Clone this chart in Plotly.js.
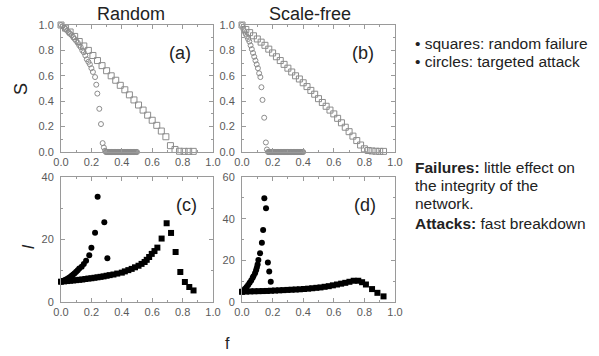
<!DOCTYPE html>
<html><head><meta charset="utf-8">
<script src="https://cdn.plot.ly/plotly-3.0.1.min.js"></script>
<style>html,body{margin:0;padding:0;background:#fff}#chart{width:599px;height:356px}</style>
</head><body><div id="chart"></div><script>
// Panel (a) Random network, S vs f
const aSqF = [0,0.03,0.06,0.09,0.12,0.15,0.18,0.21,0.24,0.27,0.30,0.33,0.36,0.39,0.42,0.45,0.48,0.51,0.54,0.57,0.60,0.63,0.66,0.69,0.72,0.75,0.78,0.81,0.84,0.87];
const aSqS = [1.00,0.975,0.945,0.91,0.87,0.835,0.80,0.76,0.72,0.68,0.64,0.60,0.565,0.525,0.49,0.45,0.41,0.37,0.33,0.29,0.25,0.21,0.165,0.12,0.05,0.02,0.006,0.005,0.005,0.005];
const aCiF = [0,0.01,0.02,0.03,0.04,0.05,0.06,0.07,0.08,0.09,0.10,0.11,0.12,0.13,0.14,0.15,0.16,0.17,0.18,0.19,0.20,0.21,0.224,0.232,0.239,0.252,0.263,0.274,0.282,0.29,
  0.295,0.30,0.305,0.31,0.315,0.32,0.325,0.33,0.335,0.34,0.345,0.35,0.355,0.36,0.365,0.37,0.375,0.38,0.385,0.39,0.395,0.40,0.405,0.41,0.415,0.42,0.425,0.43,0.435,0.44,0.445,0.45,0.455,0.46,0.465,0.47,0.475,0.48,0.485,0.49,0.495,0.50];
const aCiS = [1.0,0.99,0.98,0.97,0.955,0.945,0.93,0.92,0.905,0.89,0.875,0.86,0.84,0.825,0.80,0.785,0.76,0.73,0.71,0.69,0.66,0.63,0.59,0.53,0.46,0.34,0.22,0.07,0.035,0.01,
  0,0,0,0,0,0,0,0,0,0,0,0,0,0,0,0,0,0,0,0,0,0,0,0,0,0,0,0,0,0,0,0,0,0,0,0,0,0,0,0,0,0];
// Panel (b) Scale-free network, S vs f
const bSqF = [0,0.025,0.05,0.075,0.1,0.125,0.15,0.175,0.2,0.225,0.25,0.275,0.3,0.325,0.35,0.375,0.4,0.425,0.45,0.475,0.5,0.525,0.55,0.575,0.6,0.625,0.65,0.675,0.7,0.725,0.75,0.775,0.8,0.825,0.85,0.875,0.9,0.925];
const bSqS = [1.00,0.965,0.94,0.915,0.89,0.865,0.84,0.81,0.78,0.75,0.72,0.69,0.66,0.63,0.60,0.575,0.545,0.515,0.485,0.455,0.42,0.39,0.36,0.33,0.30,0.265,0.23,0.195,0.16,0.125,0.09,0.055,0.025,0.012,0.008,0.006,0.005,0.005];
const bCiF = [0,0.008,0.016,0.024,0.032,0.04,0.048,0.056,0.064,0.072,0.08,0.088,0.096,0.104,0.112,0.12,0.127,0.134,0.145,0.156,0.163,
  0.17,0.175,0.18,0.185,0.19,0.195,0.20,0.205,0.21,0.215,0.22,0.225,0.23,0.235,0.24,0.245,0.25,0.255,0.26,0.265,0.27,0.275,0.28,0.285,0.29,0.295,0.30,0.305,0.31,0.315,0.32,0.325,0.33,0.335,0.34,0.345,0.35,0.355,0.36,0.365,0.37,0.375,0.38,0.385,0.39,0.395,0.40];
const bCiS = [1.0,0.97,0.95,0.93,0.91,0.89,0.87,0.84,0.81,0.78,0.75,0.72,0.69,0.66,0.62,0.59,0.51,0.41,0.27,0.075,0.02,
  0,0,0,0,0,0,0,0,0,0,0,0,0,0,0,0,0,0,0,0,0,0,0,0,0,0,0,0,0,0,0,0,0,0,0,0,0,0,0,0,0,0,0,0,0,0,0,0,0,0,0,0];
// Panel (c) Random network, l vs f
const cSqF = [0,0.02,0.04,0.06,0.08,0.10,0.12,0.14,0.16,0.18,0.20,0.22,0.24,0.26,0.28,0.30,0.32,0.345,0.37,0.40,0.42,0.443,0.465,0.487,0.51,0.53,0.55,0.564,0.58,0.597,0.615,0.634,0.662,0.695,0.724,0.754,0.785,0.815,0.844,0.872];
const cSqL = [6.5,6.6,6.7,6.8,6.9,7.0,7.1,7.2,7.35,7.5,7.6,7.75,7.9,8.05,8.2,8.4,8.6,8.8,9.1,9.4,9.8,10.2,10.6,11.1,11.6,12.2,12.8,13.5,14.4,15.4,16.3,17.4,20.3,25.2,22.1,16.0,9.6,6.4,4.8,3.7];
const cCiF = [0,0.01,0.02,0.03,0.04,0.05,0.06,0.07,0.08,0.09,0.10,0.11,0.12,0.136,0.15,0.165,0.186,0.20,0.224,0.241,0.285,0.305];
const cCiL = [6.5,6.7,6.9,7.1,7.4,7.7,8.0,8.4,8.8,9.2,9.7,10.2,10.7,11.3,12.2,13.2,15.0,17.4,22.2,33.7,25.5,14.0];
// Panel (d) Scale-free network, l vs f
const dSqF = [0,0.027,0.054,0.081,0.108,0.135,0.162,0.189,0.216,0.243,0.27,0.297,0.324,0.351,0.378,0.405,0.432,0.459,0.486,0.513,0.54,0.567,0.594,0.621,0.648,0.675,0.702,0.73,0.76,0.785,0.81,0.85,0.885,0.925];
const dSqL = [4.9,5.0,5.1,5.15,5.2,5.25,5.3,5.4,5.5,5.6,5.7,5.8,5.9,6.0,6.1,6.25,6.4,6.6,6.8,7.0,7.3,7.6,8.0,8.4,8.8,9.2,9.7,10.2,10.2,9.5,8.4,6.2,4.4,2.7];
const dCiF = [0,0.01,0.02,0.03,0.04,0.05,0.06,0.07,0.075,0.085,0.092,0.097,0.102,0.107,0.118,0.13,0.138,0.146,0.157,0.169,0.178,0.188];
const dCiL = [4.9,5.6,6.4,7.2,8.2,9.2,10.3,11.6,12.4,13.8,15.2,16.6,18.0,20.2,23.4,28.5,34.6,49.8,45.0,19.0,14.6,9.7];

const xTicks = [0,0.2,0.4,0.6,0.8,1.0];
const xTickText = ['0.0','0.2','0.4','0.6','0.8','1.0'];
const sTicks = [0,0.2,0.4,0.6,0.8,1.0];
const sTickText = ['0.0','0.2','0.4','0.6','0.8','1.0'];

const gray = '#8c8c8c';
function openTrace(x, y, sym, size, xa, ya) {
  return {x, y, type:'scatter', mode:'markers', xaxis:xa, yaxis:ya, cliponaxis:false,
    marker:{symbol:sym, size:size, color:gray, line:{color:gray, width:1}}, hoverinfo:'skip'};
}
function fillTrace(x, y, sym, size, xa, ya) {
  return {x, y, type:'scatter', mode:'markers', xaxis:xa, yaxis:ya, cliponaxis:false,
    marker:{symbol:sym, size:size, color:'#000', line:{width:0}}, hoverinfo:'skip'};
}
const data = [
  openTrace(aSqF, aSqS, 'square-open', 6, 'x', 'y'),
  openTrace(aCiF, aCiS, 'circle-open', 5, 'x', 'y'),
  openTrace(bSqF, bSqS, 'square-open', 6, 'x2', 'y2'),
  openTrace(bCiF, bCiS, 'circle-open', 5, 'x2', 'y2'),
  fillTrace(cSqF, cSqL, 'square', 6, 'x3', 'y3'),
  fillTrace(cCiF, cCiL, 'circle', 6, 'x3', 'y3'),
  fillTrace(dSqF, dSqL, 'square', 6, 'x4', 'y4'),
  fillTrace(dCiF, dCiL, 'circle', 6, 'x4', 'y4')
];

const tickFont = {family:'Arial, Liberation Sans, sans-serif', size:11, color:'#5a5a5a'};
function xAx(dom, anchor) {
  return {domain:dom, anchor:anchor, range:[0,1], tickvals:xTicks, ticktext:xTickText,
    showline:true, linecolor:'#9a9a9a', linewidth:1, mirror:'ticks', ticks:'inside', ticklen:4,
    tickcolor:'#9a9a9a', showgrid:false, zeroline:false, tickfont:tickFont,
    minor:{dtick:0.1, ticks:'inside', ticklen:2, tickcolor:'#9a9a9a', showgrid:false}};
}
function yAx(dom, anchor, range, tv, tt, minorDt) {
  return {domain:dom, anchor:anchor, range:range, tickvals:tv, ticktext:tt,
    showline:true, linecolor:'#9a9a9a', linewidth:1, mirror:'ticks', ticks:'inside', ticklen:4,
    tickcolor:'#9a9a9a', showgrid:false, zeroline:false, tickfont:tickFont, ticklabelstandoff:4,
    minor:{dtick:minorDt, ticks:'inside', ticklen:2, tickcolor:'#9a9a9a', showgrid:false}};
}
const W = 599, H = 356;
const xa = [61/W, 213/W], xb = [242/W, 395/W];
const yTop = [1-152/H, 1-25/H], yBot = [1-302/H, 1-177/H];

const ann = [];
function txt(x, y, t, size, opts) {
  ann.push(Object.assign({xref:'paper', yref:'paper', x:x/W, y:1-y/H, text:t, showarrow:false,
    font:{family:'Arial, Liberation Sans, sans-serif', size:size, color:'#222'},
    xanchor:'center', yanchor:'middle'}, opts||{}));
}
txt(131, 14, 'Random', 18);
txt(310, 14, 'Scale-free', 18);
txt(180, 53, '(a)', 18);
txt(363, 53, '(b)', 18);
txt(187, 205, '(c)', 18);
txt(365, 205, '(d)', 18);
txt(21, 89, 'S', 18, {textangle:-90});
txt(28, 247, '<i>l</i>', 17, {textangle:-90});
txt(227, 343, 'f', 16);
const left = {xanchor:'left'};
txt(413, 43, '• squares: random failure', 15.5, left);
txt(413, 62, '• circles: targeted attack', 15.5, left);
txt(413, 167, '<b>Failures:</b> little effect on', 15.5, left);
txt(413, 185, 'the integrity of the', 15.5, left);
txt(413, 204, 'network.', 15.5, left);
txt(413, 223, '<b>Attacks:</b> fast breakdown', 15.5, left);

const layout = {
  width:W, height:H, margin:{l:0, r:0, t:0, b:0}, showlegend:false,
  paper_bgcolor:'#fff', plot_bgcolor:'#fff',
  xaxis: xAx(xa, 'y'), yaxis: yAx(yTop, 'x', [0,1], sTicks, sTickText, 0.1),
  xaxis2: xAx(xb, 'y2'), yaxis2: yAx(yTop, 'x2', [0,1], sTicks, sTickText, 0.1),
  xaxis3: xAx(xa, 'y3'), yaxis3: yAx(yBot, 'x3', [0,40], [0,20,40], ['0','20','40'], 10),
  xaxis4: xAx(xb, 'y4'), yaxis4: yAx(yBot, 'x4', [0,60], [0,20,40,60], ['0','20','40','60'], 10),
  annotations: ann
};
Plotly.newPlot('chart', data, layout, {staticPlot:true, displayModeBar:false});
</script></body></html>
